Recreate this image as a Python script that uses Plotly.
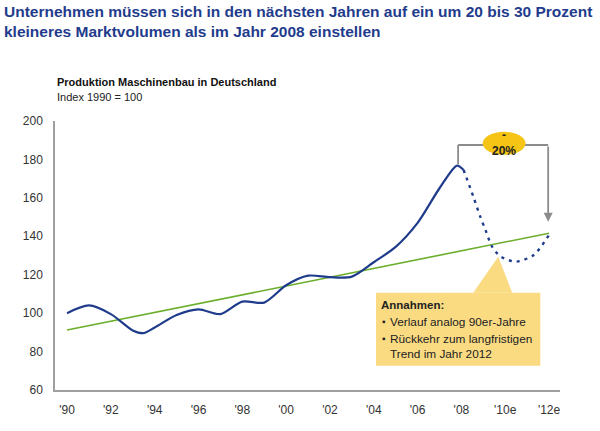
import plotly.graph_objects as go

# ---- data ----
solid_years = [1990, 1991, 1992, 1993, 1993.5, 1994, 1995, 1996, 1997, 1998, 1999,
               2000, 2001, 2002, 2003, 2004, 2005, 2006, 2007, 2007.8, 2008.1]
solid_vals = [100, 104, 99.5, 91, 89.6, 92.5, 99, 102, 99.5, 106, 105.5,
              114.5, 119.5, 118.7, 119, 126.5, 134.5, 147, 165, 176.8, 174.5]
fc_years = [2008.1, 2008.55, 2008.86, 2009.1, 2009.4, 2009.8, 2010.5, 2011.3, 2012]
fc_vals = [174.5, 160.5, 150.2, 143.3, 134.6, 129.4, 126.8, 130.3, 140.7]
trend_years = [1990, 2012]
trend_vals = [91.2, 141.6]
tick_years = [1990, 1992, 1994, 1996, 1998, 2000, 2002, 2004, 2006, 2008, 2010, 2012]
tick_labels = ["'90", "'92", "'94", "'96", "'98", "'00", "'02", "'04", "'06", "'08", "'10e", "'12e"]
y_ticks = [60, 80, 100, 120, 140, 160, 180, 200]

BLUE = "#1F3C8C"
GREEN = "#6BAE2B"
GRAY = "#8C8C8C"
FONT = "Liberation Sans, Arial, sans-serif"

fig = go.Figure()
fig.add_trace(go.Scatter(x=trend_years, y=trend_vals, mode="lines",
                         line=dict(color=GREEN, width=1.6), hoverinfo="skip"))
fig.add_trace(go.Scatter(x=solid_years, y=solid_vals, mode="lines",
                         line=dict(color=BLUE, width=2.2, shape="spline", smoothing=0.8)))
fig.add_trace(go.Scatter(x=fc_years, y=fc_vals, mode="lines",
                         line=dict(color=BLUE, width=2.4, shape="spline", smoothing=0.8,
                                   dash="3px,5px")))

# bracket
fig.add_shape(type="line", x0=2007.85, x1=2007.85, y0=177.5, y1=187.5,
              line=dict(color=GRAY, width=1.8))
fig.add_shape(type="line", x0=2007.85, x1=2011.96, y0=187.5, y1=187.5,
              line=dict(color=GRAY, width=1.8))
fig.add_annotation(x=2011.96, y=147.6, ax=2011.96, ay=187.5, xref="x", yref="y",
                   axref="x", ayref="y", showarrow=True, arrowhead=2, arrowsize=1,
                   arrowwidth=1.8, arrowcolor=GRAY, text="")
# ellipse
fig.add_shape(type="circle", x0=2008.97, x1=2010.93, y0=182.4, y1=194.4,
              fillcolor="#F5C414", line=dict(width=0))
fig.add_annotation(x=2009.95, y=188.4, xref="x", yref="y", showarrow=False,
                   text="<b>-</b><br><b>20%</b>", font=dict(family=FONT, size=12, color="#222"))

# callout box
BOX = "#FADB82"
fig.add_shape(type="path",
              path="M 2008.54 110.6 L 2009.68 129.4 L 2010.32 110.6 Z",
              fillcolor=BOX, line=dict(width=0), layer="below")
fig.add_shape(type="rect", x0=2004.1, x1=2011.6, y0=72.6, y1=110.6,
              fillcolor=BOX, line=dict(width=0), layer="below")

def px_ann(px, py, text, size=11, bold=False, color="#222", xanchor="left"):
    t = f"<b>{text}</b>" if bold else text
    fig.add_annotation(x=(px - 55) / 505, y=(390 - py) / 269, xref="paper", yref="paper",
                       text=t, showarrow=False, xanchor=xanchor, yanchor="middle",
                       font=dict(family=FONT, size=size, color=color))

px_ann(379, 305, "Annahmen:", size=11.5, bold=True)
px_ann(380, 321, "▪", size=10)
px_ann(388, 322, "Verlauf analog 90er-Jahre", size=11.8)
px_ann(380, 338, "▪", size=10)
px_ann(388, 339, "Rückkehr zum langfristigen", size=11.8)
px_ann(388, 354, "Trend im Jahr 2012", size=11.8)

# titles
px_ann(2, 12, "Unternehmen müssen sich in den nächsten Jahren auf ein um 20 bis 30 Prozent",
       size=15.5, bold=True, color=BLUE)
px_ann(2, 32, "kleineres Marktvolumen als im Jahr 2008 einstellen", size=15.5, bold=True, color=BLUE)
px_ann(55, 82, "Produktion Maschinenbau in Deutschland", size=11, bold=True, color="#111")
px_ann(55, 97, "Index 1990 = 100", size=11, color="#222")

fig.update_layout(
    width=600, height=431,
    margin=dict(l=55, r=40, t=121, b=41),
    paper_bgcolor="white", plot_bgcolor="white",
    showlegend=False,
    font=dict(family=FONT, size=12, color="#333"),
    xaxis=dict(range=[1989.45, 2012.5], tickvals=tick_years, ticktext=tick_labels,
               showgrid=False, zeroline=False, showline=True, linecolor="#A0A0A0",
               linewidth=1.5, ticks="", ticklabelstandoff=8,
               tickfont=dict(family=FONT, size=12, color="#333")),
    yaxis=dict(range=[60, 200], tickvals=y_ticks, showgrid=False, zeroline=False,
               showline=True, linecolor="#A0A0A0", linewidth=1.5, ticks="",
               ticklabelstandoff=8, tickfont=dict(family=FONT, size=12, color="#333")),
)

fig.write_html("out.html")
